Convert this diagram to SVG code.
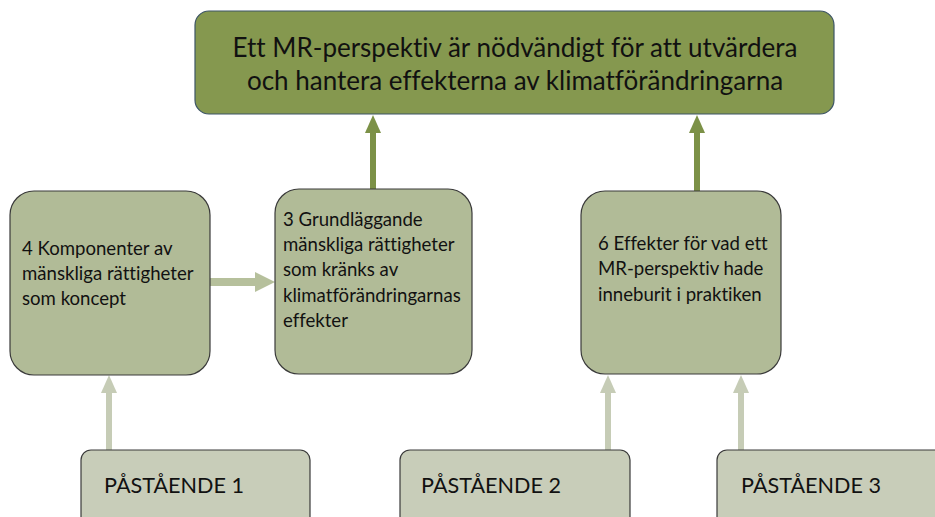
<svg xmlns="http://www.w3.org/2000/svg" width="935" height="517" viewBox="0 0 935 517">
<style>
text{font-family:Lato,"Open Sans","Liberation Sans",sans-serif;fill:#111;font-variant-ligatures:no-common-ligatures;}
.mid{fill:#b1bb97;stroke:#3a3a3a;stroke-width:1.2;}
.bot{fill:#c8cdb9;stroke:#3a3a3a;stroke-width:1.2;}
.t16{font-size:18.6px;}
.t20{font-size:21.6px;}
.t22{font-size:26px;}
</style>
<defs>
<marker id="hd" markerUnits="userSpaceOnUse" markerWidth="20" markerHeight="20" refX="0" refY="10" orient="auto"><path d="M0,2 L18,10 L0,18 Z" fill="#7c9147"/></marker>
<marker id="hm" markerUnits="userSpaceOnUse" markerWidth="24" markerHeight="24" refX="0" refY="12" orient="auto"><path d="M0,2 L20,12 L0,22 Z" fill="#b6c09c"/></marker>
<marker id="hl" markerUnits="userSpaceOnUse" markerWidth="20" markerHeight="20" refX="0" refY="10" orient="auto"><path d="M0,2 L18,10 L0,18 Z" fill="#c6ccb6"/></marker>
</defs>
<g id="connectors">
<line x1="373" y1="189" x2="373" y2="133" stroke="#7c9147" stroke-width="6" marker-end="url(#hd)"/>
<line x1="697" y1="191" x2="697" y2="133" stroke="#7c9147" stroke-width="6" marker-end="url(#hd)"/>
<line x1="210" y1="282" x2="255" y2="282" stroke="#b6c09c" stroke-width="8" marker-end="url(#hm)"/>
<line x1="109" y1="450" x2="109" y2="393" stroke="#c6ccb6" stroke-width="6" marker-end="url(#hl)"/>
<line x1="608" y1="450" x2="608" y2="393" stroke="#c6ccb6" stroke-width="6" marker-end="url(#hl)"/>
<line x1="741" y1="450" x2="741" y2="393" stroke="#c6ccb6" stroke-width="6" marker-end="url(#hl)"/>
</g>
<g id="top">
<rect x="195" y="11" width="639" height="103" rx="14" fill="#85984f" stroke="#3d5566" stroke-width="1.2"/>
<text class="t22" x="515" y="57" text-anchor="middle">Ett MR-perspektiv är nödvändigt för att utvärdera</text>
<text class="t22" x="515" y="90" text-anchor="middle">och hantera effekterna av klimatförändringarna</text>
</g>
<g id="n4">
<rect class="mid" x="10" y="191" width="200" height="184" rx="24"/>
<text class="t16" x="22" y="255">4 Komponenter av</text>
<text class="t16" x="22" y="280">mänskliga rättigheter</text>
<text class="t16" x="22" y="305">som koncept</text>
</g>
<g id="n3">
<rect class="mid" x="275" y="189" width="197" height="185" rx="24"/>
<text class="t16" x="283" y="226">3 Grundläggande</text>
<text class="t16" x="283" y="251">mänskliga rättigheter</text>
<text class="t16" x="283" y="276">som kränks av</text>
<text class="t16" x="283" y="302">klimatförändringarnas</text>
<text class="t16" x="283" y="327">effekter</text>
</g>
<g id="n6">
<rect class="mid" x="581" y="191" width="200" height="183" rx="24"/>
<text class="t16" x="598" y="250">6 Effekter för vad ett</text>
<text class="t16" x="598" y="275">MR-perspektiv hade</text>
<text class="t16" x="598" y="301">inneburit i praktiken</text>
</g>
<g id="p1">
<rect class="bot" x="81" y="450" width="229" height="80" rx="10"/>
<text class="t20" x="104" y="493">PÅSTÅENDE 1</text>
</g>
<g id="p2">
<rect class="bot" x="400" y="450" width="230" height="80" rx="10"/>
<text class="t20" x="421" y="493">PÅSTÅENDE 2</text>
</g>
<g id="p3">
<rect class="bot" x="717" y="450" width="230" height="80" rx="10"/>
<text class="t20" x="741" y="493">PÅSTÅENDE 3</text>
</g>
</svg>
